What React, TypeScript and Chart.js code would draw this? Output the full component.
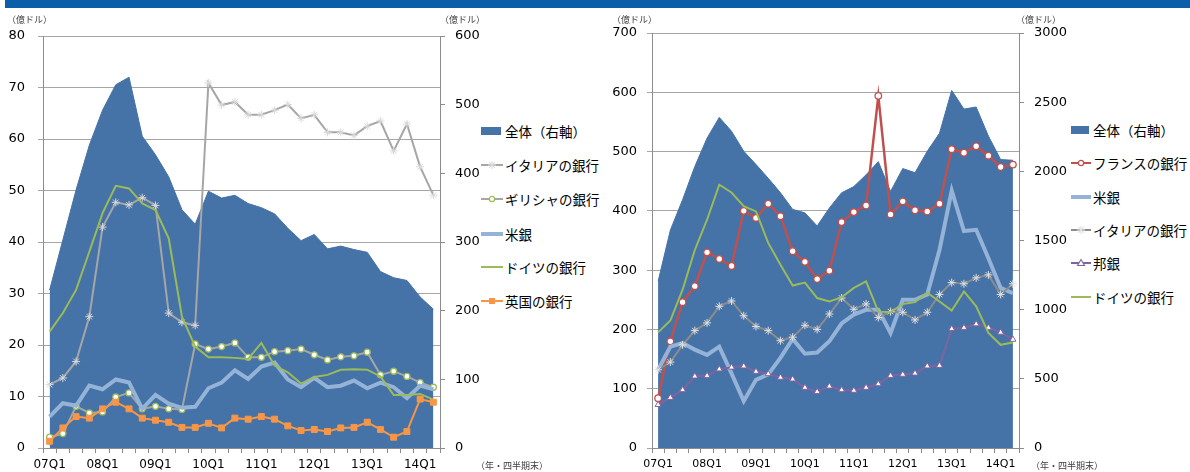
import React, { useEffect, useRef } from "react";
import { Chart, registerables } from "chart.js";

Chart.register(...registerables);

// Quarter-end categories, 2007Q1 .. 2014Q2
const quarters = [
  "07Q1", "07Q2", "07Q3", "07Q4",
  "08Q1", "08Q2", "08Q3", "08Q4",
  "09Q1", "09Q2", "09Q3", "09Q4",
  "10Q1", "10Q2", "10Q3", "10Q4",
  "11Q1", "11Q2", "11Q3", "11Q4",
  "12Q1", "12Q2", "12Q3", "12Q4",
  "13Q1", "13Q2", "13Q3", "13Q4",
  "14Q1", "14Q2",
];

// Left panel (億ドル). Total on the right axis.
const leftTotal = [230, 303, 376, 441, 492, 529, 540, 454, 427, 395, 347, 326, 374, 364, 368, 356, 350, 341, 320, 302, 311, 290, 294, 289, 285, 257, 248, 244, 220, 202];
const leftItaly = [12.3, 13.6, 16.8, 25.5, 42.9, 47.7, 47.2, 48.6, 47.1, 26.2, 24.4, 23.8, 70.9, 66.6, 67.2, 64.7, 64.7, 65.6, 66.7, 64.0, 64.7, 61.3, 61.3, 60.7, 62.5, 63.5, 57.7, 62.9, 54.6, 49.1];
const leftGreece = [2.1, 2.8, 8.1, 6.8, 7.0, 9.9, 10.7, 7.6, 8.1, 7.6, 7.5, 20.2, 19.2, 19.7, 20.4, 17.6, 17.6, 18.7, 18.9, 19.2, 18.1, 17.1, 17.7, 17.9, 18.6, 14.2, 14.9, 13.9, 12.7, 11.8];
const leftUS = [6.1, 8.7, 8.2, 12.1, 11.4, 13.3, 12.7, 7.6, 10.3, 8.6, 7.8, 8.0, 11.6, 12.7, 15.1, 13.4, 15.8, 16.6, 13.3, 11.8, 13.6, 11.8, 12.1, 13.1, 11.6, 12.7, 11.8, 9.7, 12.1, 11.4];
const leftGermany = [22.6, 26.2, 30.7, 38.1, 45.6, 50.9, 50.4, 47.5, 46.2, 40.7, 25.5, 19.7, 17.6, 17.6, 17.5, 17.3, 20.4, 16.0, 14.7, 12.5, 13.8, 14.2, 15.2, 15.3, 15.2, 13.9, 10.3, 10.3, 10.5, 9.4];
const leftUK = [1.3, 3.9, 6.1, 5.8, 7.6, 8.9, 7.6, 5.8, 5.4, 5.0, 4.0, 4.0, 4.8, 3.9, 5.8, 5.6, 6.1, 5.6, 4.3, 3.4, 3.6, 3.2, 3.9, 4.0, 5.0, 3.6, 2.1, 3.2, 9.5, 8.9];

// Right panel (億ドル). Total on the right axis.
const rightTotal = [1205, 1575, 1795, 2035, 2240, 2390, 2290, 2145, 2050, 1950, 1845, 1725, 1700, 1605, 1735, 1845, 1890, 1975, 2070, 1855, 2020, 1990, 2145, 2275, 2585, 2450, 2465, 2255, 2085, 2080];
const rightFrance = [84, 180, 246, 273, 330, 319, 307, 400, 388, 412, 391, 332, 314, 285, 299, 381, 398, 409, 594, 394, 416, 401, 399, 412, 504, 498, 509, 493, 474, 478];
const rightUS = [132, 171, 177, 166, 157, 171, 126, 79, 115, 124, 152, 184, 159, 161, 180, 210, 225, 233, 233, 194, 250, 250, 259, 334, 434, 366, 368, 320, 270, 261];
const rightItaly = [132, 145, 174, 198, 211, 239, 248, 223, 205, 198, 181, 187, 207, 200, 226, 253, 234, 243, 220, 230, 229, 216, 229, 259, 279, 277, 287, 292, 259, 277];
const rightJapan = [73, 85, 98, 121, 122, 133, 136, 138, 129, 125, 119, 116, 102, 95, 104, 98, 97, 102, 108, 122, 124, 126, 138, 139, 201, 203, 209, 203, 195, 183];
const rightGermany = [195, 215, 267, 334, 385, 444, 431, 408, 399, 346, 309, 274, 279, 253, 247, 254, 270, 281, 230, 229, 243, 246, 262, 247, 232, 264, 239, 194, 174, 178];

// Axis tick settings
const leftPanelTicks = { leftMax: 80, leftStep: 10, rightMax: 600, rightStep: 100 };
const rightPanelTicks = { leftMax: 700, leftStep: 100, rightMax: 3000, rightStep: 500 };

const GRID = "#a6a6a6";
const AXIS = "#8c8c8c";
const AREA = "#4572a7";
const GREEN = "#9bbb59";
const LIGHTBLUE = "#95b3d7";
const ORANGE = "#f79646";
const RED = "#c0504d";
const PURPLE = "#8064a2";
const TICK_FONT = "'DejaVu Sans', sans-serif";
const JP_FONT = "'Noto Sans CJK JP', sans-serif";

type Frame = {
  leftMax: number; leftStep: number; rightMax: number; rightStep: number;
  leftWidth: number; rightWidth: number; top: number; xFont: number; leftPad: number;
};

const plain = (v: any) => String(v);

function buildOptions(f: Frame): any {
  return {
    responsive: false,
    animation: false,
    events: [],
    layout: { padding: { top: f.top, left: 0, right: 0, bottom: 0 } },
    plugins: { legend: { display: false }, tooltip: { enabled: false } },
    elements: { line: { tension: 0 } },
    scales: {
      x: {
        type: "category",
        offset: true,
        grid: { offset: true, drawOnChartArea: false, drawTicks: true, tickLength: 5, color: AXIS },
        border: { color: AXIS },
        ticks: {
          autoSkip: false,
          maxRotation: 0,
          minRotation: 0,
          padding: 5,
          color: "#000",
          font: { family: TICK_FONT, size: f.xFont },
          callback: (_v: any, i: number) => (quarters[i].endsWith("Q1") ? quarters[i] : ""),
        },
        afterFit: (s: any) => { s.height = 24; },
      },
      y: {
        position: "left",
        min: 0,
        max: f.leftMax,
        ticks: { stepSize: f.leftStep, padding: f.leftPad, color: "#000", font: { family: TICK_FONT, size: 13 }, callback: plain },
        grid: { color: GRID, tickLength: 5 },
        border: { color: AXIS },
        afterFit: (s: any) => { s.width = f.leftWidth; },
      },
      y1: {
        position: "right",
        min: 0,
        max: f.rightMax,
        ticks: { stepSize: f.rightStep, padding: 10, color: "#000", font: { family: TICK_FONT, size: 13 }, callback: plain },
        grid: { drawOnChartArea: false, color: AXIS, tickLength: 5 },
        border: { color: AXIS },
        afterFit: (s: any) => { s.width = f.rightWidth; },
      },
    },
  };
}

function areaSet(label: string, data: number[]) {
  return {
    label, data, yAxisID: "y1", fill: "origin",
    backgroundColor: AREA, borderColor: AREA, borderWidth: 1,
    pointRadius: 0, order: 10,
  };
}

function lineSet(label: string, data: number[], o: any) {
  return {
    label, data, yAxisID: "y", fill: false,
    borderColor: o.color, borderWidth: o.width ?? 2,
    pointRadius: o.radius ?? 0,
    pointStyle: o.marker ?? "circle",
    pointBackgroundColor: o.mFill ?? o.color,
    pointBorderColor: o.mStroke ?? o.color,
    pointBorderWidth: o.mWidth ?? 1,
    order: o.order,
  };
}

function ChartCanvas({ left, width, config }: { left: number; width: number; config: any }) {
  const ref = useRef<HTMLCanvasElement>(null);
  useEffect(() => {
    if (!ref.current) return;
    const chart = new Chart(ref.current, config);
    return () => chart.destroy();
  }, []);
  return (
    <canvas
      ref={ref}
      width={width}
      height={472}
      style={{ position: "absolute", left, top: 0, width, height: 472 }}
    />
  );
}

type LegendEntry = {
  label: string; kind: "area" | "line"; color: string; width?: number;
  marker?: "star" | "circle" | "rect" | "triangle"; mFill?: string; mStroke?: string;
};

function Marker({ e, cx, cy }: { e: LegendEntry; cx: number; cy: number }) {
  if (!e.marker) return null;
  const fill = e.mFill ?? e.color;
  const stroke = e.mStroke ?? e.color;
  if (e.marker === "star") {
    const r = 4;
    const d = r * 0.707;
    return (
      <g stroke={stroke} strokeWidth={1.1}>
        <line x1={cx - r} y1={cy} x2={cx + r} y2={cy} />
        <line x1={cx} y1={cy - r} x2={cx} y2={cy + r} />
        <line x1={cx - d} y1={cy - d} x2={cx + d} y2={cy + d} />
        <line x1={cx - d} y1={cy + d} x2={cx + d} y2={cy - d} />
      </g>
    );
  }
  if (e.marker === "circle") return <circle cx={cx} cy={cy} r={2.6} fill={fill} stroke={stroke} strokeWidth={1.2} />;
  if (e.marker === "rect") return <rect x={cx - 3} y={cy - 3} width={6} height={6} fill={fill} />;
  return <polygon points={`${cx},${cy - 3.5} ${cx + 3.5},${cy + 2.5} ${cx - 3.5},${cy + 2.5}`} fill={fill} stroke={stroke} strokeWidth={1.1} />;
}

function Legend({ x, w, ys, entries }: { x: number; w: number; ys: number[]; entries: LegendEntry[] }) {
  return (
    <>
      {entries.map((e, i) => (
        <div
          key={e.label}
          style={{
            position: "absolute", left: x, top: ys[i] - 11, height: 22,
            display: "flex", alignItems: "center", whiteSpace: "nowrap",
            fontFamily: JP_FONT, fontSize: 13.5, color: "#000",
          }}
        >
          <svg width={w} height={14} style={{ marginRight: 2 }}>
            {e.kind === "area" ? (
              <rect x={0} y={3} width={w - 2} height={8} fill={e.color} />
            ) : (
              <>
                <line x1={0} y1={7} x2={w} y2={7} stroke={e.color} strokeWidth={e.width ?? 2} />
                <Marker e={e} cx={w / 2} cy={7} />
              </>
            )}
          </svg>
          <span>{e.label}</span>
        </div>
      ))}
    </>
  );
}

const unitStyle: React.CSSProperties = {
  position: "absolute", fontFamily: JP_FONT, fontSize: 9, color: "#404040", whiteSpace: "nowrap",
};

export default function App() {
  const leftConfig = {
    type: "line",
    data: {
      labels: quarters,
      datasets: [
        lineSet("英国の銀行", leftUK, { color: ORANGE, radius: 4.2, marker: "rect", order: 1 }),
        lineSet("ドイツの銀行", leftGermany, { color: GREEN, order: 2 }),
        lineSet("米銀", leftUS, { color: LIGHTBLUE, width: 4, order: 3 }),
        lineSet("ギリシャの銀行", leftGreece, { color: "#a6a6a6", radius: 3, marker: "circle", mFill: "#fff", mStroke: GREEN, mWidth: 1.3, order: 4 }),
        lineSet("イタリアの銀行", leftItaly, { color: "#a6a6a6", radius: 4, marker: "star", mStroke: "#d9d9d9", mWidth: 1, order: 5 }),
        areaSet("全体（右軸）", leftTotal),
      ],
    },
    options: buildOptions({ ...leftPanelTicks, leftWidth: 43, rightWidth: 40, top: 36, xFont: 12, leftPad: 13 }),
  };

  const rightConfig = {
    type: "line",
    data: {
      labels: quarters,
      datasets: [
        lineSet("ドイツの銀行", rightGermany, { color: GREEN, order: 1 }),
        lineSet("邦銀", rightJapan, { color: PURPLE, radius: 3.5, marker: "triangle", mFill: "#fff", mStroke: PURPLE, mWidth: 1, order: 2 }),
        lineSet("イタリアの銀行", rightItaly, { color: "#8c8c8c", radius: 4, marker: "star", mStroke: "#e0e0e0", mWidth: 1, order: 3 }),
        lineSet("米銀", rightUS, { color: LIGHTBLUE, width: 4, order: 4 }),
        lineSet("フランスの銀行", rightFrance, { color: RED, width: 2.5, radius: 3.3, marker: "circle", mFill: "#fff", mStroke: RED, mWidth: 1.3, order: 5 }),
        areaSet("全体（右軸）", rightTotal),
      ],
    },
    options: buildOptions({ ...rightPanelTicks, leftWidth: 52, rightWidth: 51, top: 33, xFont: 11, leftPad: 10 }),
  };

  const leftLegend: LegendEntry[] = [
    { label: "全体（右軸）", kind: "area", color: AREA },
    { label: "イタリアの銀行", kind: "line", color: "#a6a6a6", marker: "star", mStroke: "#dcdcdc" },
    { label: "ギリシャの銀行", kind: "line", color: "#a6a6a6", marker: "circle", mFill: "#fff", mStroke: GREEN },
    { label: "米銀", kind: "line", color: LIGHTBLUE, width: 4 },
    { label: "ドイツの銀行", kind: "line", color: GREEN },
    { label: "英国の銀行", kind: "line", color: ORANGE, marker: "rect" },
  ];
  const rightLegend: LegendEntry[] = [
    { label: "全体（右軸）", kind: "area", color: AREA },
    { label: "フランスの銀行", kind: "line", color: RED, marker: "circle", mFill: "#fff", mStroke: RED },
    { label: "米銀", kind: "line", color: LIGHTBLUE, width: 4 },
    { label: "イタリアの銀行", kind: "line", color: "#8c8c8c", marker: "star", mStroke: "#e0e0e0" },
    { label: "邦銀", kind: "line", color: PURPLE, marker: "triangle", mFill: "#fff", mStroke: PURPLE },
    { label: "ドイツの銀行", kind: "line", color: GREEN },
  ];

  return (
    <div style={{ position: "absolute", left: 0, top: 0, width: 1190, height: 472, background: "#fff", overflow: "hidden" }}>
      <div style={{ position: "absolute", left: 5, top: 0, width: 1185, height: 8, background: "#0b5ea8" }} />
      <ChartCanvas left={0} width={480} config={leftConfig} />
      <ChartCanvas left={600} width={470} config={rightConfig} />

      <div style={{ ...unitStyle, left: 7, top: 13 }}>（億ドル）</div>
      <div style={{ ...unitStyle, left: 440, top: 13 }}>（億ドル）</div>
      <div style={{ ...unitStyle, left: 612, top: 13 }}>（億ドル）</div>
      <div style={{ ...unitStyle, left: 1016, top: 13 }}>（億ドル）</div>
      <div style={{ ...unitStyle, left: 476, top: 459 }}>（年・四半期末）</div>
      <div style={{ ...unitStyle, left: 1031, top: 459 }}>（年・四半期末）</div>

      <Legend x={481} w={22} ys={[131, 165, 199, 234, 267, 301]} entries={leftLegend} />
      <Legend x={1071} w={20} ys={[130, 163, 197, 230, 263, 297]} entries={rightLegend} />
    </div>
  );
}
